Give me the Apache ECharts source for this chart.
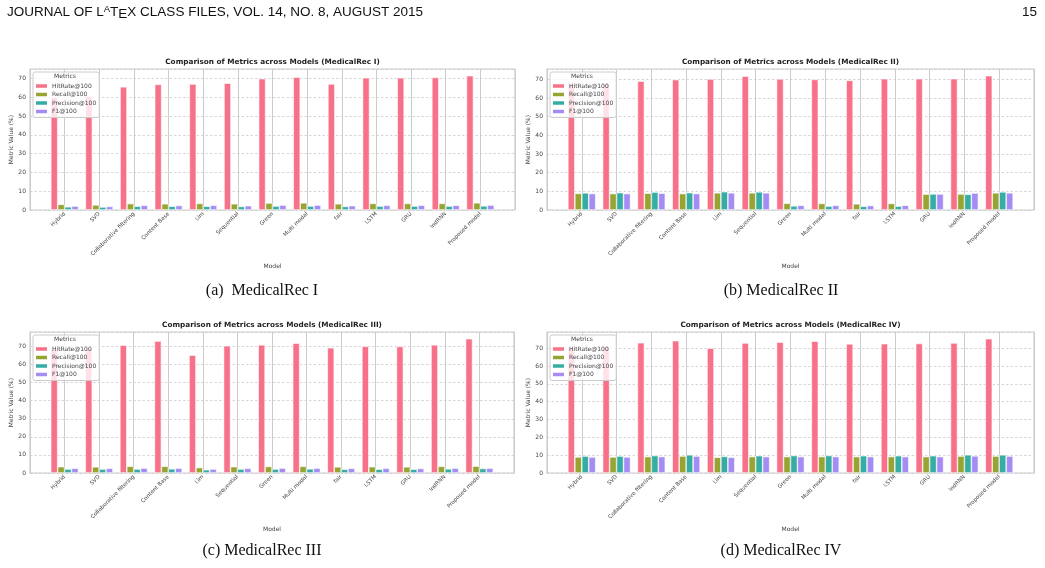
<!DOCTYPE html>
<html>
<head>
<meta charset="utf-8">
<script src="https://cdn.jsdelivr.net/npm/echarts@6.0.0/dist/echarts.min.js"></script>
<style>
  html, body { margin: 0; background: #fff; }
  #main { width: 1045px; height: 568px; }
</style>
</head>
<body>
<div id="main"></div>
<script>
// models on the x axis (same for all four panels)
const models = ["Hybrid", "SVD", "Collaborative filtering", "Content Base", "Lim", "Sequential",
  "Green", "Multi modal", "fair", "LSTM", "GRU", "IndRNN", "Proposed model"];
const metrics = ["HitRate@100", "Recall@100", "Precision@100", "F1@100"];
const colors = ["#f77189", "#97a431", "#36ada4", "#a48cf4"];
const yTicks = [0, 10, 20, 30, 40, 50, 60, 70];

// MedicalRec I
const hitI = [60.0, 60.6, 65.5, 66.8, 67.0, 67.4, 69.8, 70.6, 67.0, 70.3, 70.3, 70.5, 71.4];
const recallI = [3.0, 2.7, 3.4, 3.3, 3.5, 3.3, 3.7, 3.8, 3.3, 3.5, 3.5, 3.5, 3.8];
const precI = [1.7, 1.6, 2.0, 2.0, 2.0, 1.9, 2.1, 2.1, 1.9, 2.1, 2.1, 2.1, 2.2];
const f1I = [2.1, 1.9, 2.5, 2.4, 2.5, 2.3, 2.6, 2.6, 2.3, 2.5, 2.5, 2.5, 2.6];

// MedicalRec II
const hitII = [67.5, 68.0, 69.1, 69.9, 70.2, 71.8, 70.3, 70.0, 69.5, 70.4, 70.4, 70.4, 72.0];
const recallII = [8.9, 8.8, 9.0, 8.8, 9.2, 9.2, 3.6, 3.5, 3.3, 3.5, 8.5, 8.6, 9.2];
const precII = [9.2, 9.3, 9.6, 9.3, 9.8, 9.7, 2.2, 2.1, 2.0, 2.1, 8.6, 8.4, 9.7];
const f1II = [8.8, 8.8, 9.0, 8.8, 9.2, 9.2, 2.5, 2.5, 2.4, 2.5, 8.6, 9.1, 9.2];

// MedicalRec III
const hitIII = [68.5, 69.2, 70.7, 73.0, 65.2, 70.4, 70.9, 71.8, 69.3, 70.1, 70.0, 70.9, 74.3];
const recallIII = [3.5, 3.4, 3.7, 3.7, 3.0, 3.5, 3.6, 3.7, 3.4, 3.5, 3.4, 3.7, 3.8];
const precIII = [2.2, 2.2, 2.2, 2.3, 1.8, 2.2, 2.2, 2.3, 2.1, 2.1, 2.1, 2.3, 2.5];
const f1III = [2.6, 2.6, 2.7, 2.7, 2.2, 2.6, 2.7, 2.7, 2.6, 2.6, 2.5, 2.7, 2.7];

// MedicalRec IV
const hitIV = [70.5, 71.0, 73.0, 74.2, 70.0, 72.9, 73.4, 73.9, 72.4, 72.5, 72.6, 72.9, 75.3];
const recallIV = [9.0, 9.0, 9.2, 9.5, 8.8, 9.2, 9.2, 9.2, 9.2, 9.2, 9.2, 9.5, 9.5];
const precIV = [9.5, 9.5, 9.8, 10.2, 9.3, 9.7, 9.8, 9.8, 9.7, 9.7, 9.7, 10.2, 10.2];
const f1IV = [9.0, 9.0, 9.2, 9.5, 8.8, 9.2, 9.2, 9.2, 9.2, 9.2, 9.2, 9.6, 9.5];

const panels = [
  { name: "MedicalRec I", caption: "(a)  MedicalRec I", values: [hitI, recallI, precI, f1I],
    box: { left: 30, top: 69, right: 515, bottom: 210 }, capX: 262, capY: 291 },
  { name: "MedicalRec II", caption: "(b) MedicalRec II", values: [hitII, recallII, precII, f1II],
    box: { left: 547, top: 69, right: 1034, bottom: 210 }, capX: 781, capY: 291 },
  { name: "MedicalRec III", caption: "(c) MedicalRec III", values: [hitIII, recallIII, precIII, f1III],
    box: { left: 30, top: 332, right: 514, bottom: 473 }, capX: 262, capY: 551 },
  { name: "MedicalRec IV", caption: "(d) MedicalRec IV", values: [hitIV, recallIV, precIV, f1IV],
    box: { left: 547, top: 332, right: 1034, bottom: 473 }, capX: 781, capY: 551 }
];

const FONT = "DejaVu Sans";
const SERIF = "Liberation Serif";

// pad one empty slot each side so the bars sit one step in from the frame, like matplotlib
const xCats = [""].concat(models, [""]);
const pad = arr => [null].concat(arr, [null]);

const grid = [], xAxis = [], yAxis = [], series = [], legend = [], title = [], graphic = [];

panels.forEach((p, i) => {
  const b = p.box;
  grid.push({
    left: b.left, top: b.top, width: b.right - b.left, height: b.bottom - b.top,
    show: true, borderColor: "#cccccc", borderWidth: 1.2, backgroundColor: "#fff"
  });
  xAxis.push({
    type: "category", gridIndex: i, data: xCats, boundaryGap: false,
    axisLine: { show: false }, axisTick: { show: false },
    axisLabel: { interval: 0, rotate: 45, fontSize: 5.5, color: "#444", fontFamily: FONT, margin: 3 },
    splitLine: { show: true, lineStyle: { color: "#cccccc", width: 1 } },
    name: "Model", nameLocation: "middle", nameGap: 53,
    nameTextStyle: { fontSize: 6, color: "#444", fontFamily: FONT }
  });
  const ymax = Math.max.apply(null, p.values[0]) * 1.05;
  yAxis.push({
    type: "value", gridIndex: i, min: 0, max: ymax, interval: 10,
    axisLine: { show: false }, axisTick: { show: false },
    axisLabel: { fontSize: 6, color: "#444", fontFamily: FONT, margin: 4,
      customValues: yTicks },
    splitLine: { show: true, lineStyle: { color: "#cccccc", width: 0.8, type: [2.5, 2] } },
    name: "Metric Value (%)", nameLocation: "middle", nameGap: 13,
    nameTextStyle: { fontSize: 6, color: "#444", fontFamily: FONT }
  });
  metrics.forEach((m, k) => {
    series.push({
      type: "bar", name: m, xAxisIndex: i, yAxisIndex: i,
      data: pad(p.values[k]), barWidth: "20%", barGap: "0%",
      itemStyle: { color: colors[k], borderColor: "#fff", borderWidth: 0.6 },
      silent: true, animation: false
    });
  });
  legend.push({
    data: metrics, orient: "vertical", left: b.left + 3, top: b.top + 3,
    padding: [10, 3, 2, 3], itemWidth: 11, itemHeight: 3.5, itemGap: 0.5,
    icon: "rect", selectedMode: false,
    itemStyle: { borderWidth: 0 },
    textStyle: { fontSize: 6, color: "#444", fontFamily: FONT, lineHeight: 8 },
    backgroundColor: "rgba(255,255,255,0.8)", borderColor: "#cccccc", borderWidth: 1, borderRadius: 2
  });
  title.push({
    text: "Comparison of Metrics across Models (" + p.name + ")",
    left: (b.left + b.right) / 2, top: b.top - 10, textAlign: "center", padding: 0,
    textStyle: { fontSize: 7.3, fontWeight: "bold", color: "#222", fontFamily: FONT }
  });
  title.push({
    text: "Metrics", left: b.left + 35, top: b.top + 4, textAlign: "center", padding: 0, z: 10,
    textStyle: { fontSize: 6, fontWeight: "normal", color: "#444", fontFamily: FONT }
  });
  graphic.push({
    type: "text", x: p.capX, y: p.capY,
    style: { text: p.caption, font: "16px '" + SERIF + "'", fill: "#111",
      textAlign: "center", textVerticalAlign: "middle" }
  });
});

// page header
graphic.push({
  type: "text", x: 7, y: 12,
  style: {
    text: "JOURNAL OF {n|L}{a|A}{n|T}{e|E}{n|X} CLASS FILES, VOL. 14, NO. 8, AUGUST 2015",
    font: "13.5px 'Liberation Sans'", fill: "#111", textVerticalAlign: "middle",
    rich: {
      n: { fontSize: 13.5, fontFamily: "Liberation Sans", lineHeight: 16 },
      a: { fontSize: 9.5, fontFamily: "Liberation Sans", lineHeight: 16, verticalAlign: "top", padding: [0, 0, 5, 0] },
      e: { fontSize: 13.5, fontFamily: "Liberation Sans", lineHeight: 16, padding: [4, 0, 0, 0] }
    }
  }
});
graphic.push({
  type: "text", x: 1037, y: 12,
  style: { text: "15", font: "13.5px 'Liberation Sans'", fill: "#111", textAlign: "right", textVerticalAlign: "middle" }
});

const chart = echarts.init(document.getElementById("main"));
chart.setOption({
  backgroundColor: "#fff",
  animation: false,
  grid, xAxis, yAxis, series, legend, title, graphic
});
</script>
</body>
</html>
